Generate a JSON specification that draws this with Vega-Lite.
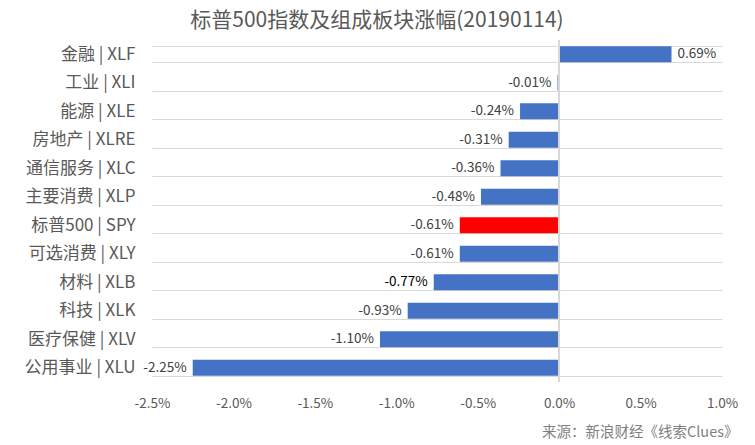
{
  "$schema": "https://vega.github.io/schema/vega-lite/v6.json",
  "autosize": {"type": "none"},
  "padding": {"left": 152, "top": 40, "right": 33, "bottom": 63},
  "width": 570,
  "height": 342,
  "background": "white",
  "title": {
    "text": "标普500指数及组成板块涨幅(20190114)",
    "fontSize": 21,
    "font": "Noto Sans CJK SC",
    "fontWeight": "normal",
    "color": "#595959",
    "anchor": "middle",
    "dx": -60,
    "dy": 4,
    "offset": 4
  },
  "data": {
    "values": [
      {"label": "金融 | XLF", "code": "XLF", "value": 0.0069},
      {"label": "工业 | XLI", "code": "XLI", "value": -0.0001},
      {"label": "能源 | XLE", "code": "XLE", "value": -0.0024},
      {"label": "房地产 | XLRE", "code": "XLRE", "value": -0.0031},
      {"label": "通信服务 | XLC", "code": "XLC", "value": -0.0036},
      {"label": "主要消费 | XLP", "code": "XLP", "value": -0.0048},
      {"label": "标普500 | SPY", "code": "SPY", "value": -0.0061},
      {"label": "可选消费 | XLY", "code": "XLY", "value": -0.0061},
      {"label": "材料 | XLB", "code": "XLB", "value": -0.0077},
      {"label": "科技 | XLK", "code": "XLK", "value": -0.0093},
      {"label": "医疗保健 | XLV", "code": "XLV", "value": -0.011},
      {"label": "公用事业 | XLU", "code": "XLU", "value": -0.0225}
    ]
  },
  "encoding": {
    "y": {
      "field": "label",
      "type": "nominal",
      "sort": null,
      "scale": {"paddingInner": 0.44, "paddingOuter": 0.22},
      "axis": {
        "title": null,
        "ticks": false,
        "domain": false,
        "grid": true,
        "tickBand": "extent",
        "gridColor": "#d9d9d9",
        "gridWidth": 1,
        "labelPadding": 17,
        "labelFontSize": 17,
        "labelFont": "Noto Sans CJK SC",
        "labelColor": "#595959"
      }
    },
    "x": {
      "field": "value",
      "type": "quantitative",
      "scale": {"domain": [-0.025, 0.01], "nice": false, "zero": false},
      "axis": {
        "format": ".1%",
        "values": [-0.025, -0.02, -0.015, -0.01, -0.005, 0, 0.005, 0.01],
        "grid": false,
        "ticks": false,
        "domain": false,
        "labelPadding": 14,
        "labelFontSize": 13.5,
        "labelFont": "Noto Sans CJK SC",
        "labelColor": "#595959",
        "labelFlush": false,
        "title": "来源：新浪财经《线索Clues》",
        "titleFont": "Noto Sans CJK SC",
        "titleFontSize": 14.5,
        "titleFontWeight": "normal",
        "titleColor": "#7f7f7f",
        "titleAnchor": "end",
        "titleAlign": "right",
        "titleX": 586,
        "titlePadding": 16
      }
    }
  },
  "layer": [
    {
      "mark": {"type": "bar"},
      "encoding": {
        "x2": {"datum": 0},
        "color": {
          "condition": {"test": "datum.code === 'SPY'", "value": "#ff0000"},
          "value": "#4472c4"
        }
      }
    },
    {
      "mark": {"type": "rule", "color": "#d9d9d9", "strokeWidth": 1},
      "encoding": {"x": {"datum": 0}, "y": null}
    },
    {
      "transform": [{"filter": "datum.value >= 0"}],
      "mark": {"type": "text", "align": "left", "baseline": "middle", "dx": 6, "fontSize": 13.5, "font": "Noto Sans CJK SC"},
      "encoding": {
        "text": {"field": "value", "format": ".2%"},
        "color": {"value": "#404040"}
      }
    },
    {
      "transform": [{"filter": "datum.value < 0"}],
      "mark": {"type": "text", "align": "right", "baseline": "middle", "dx": -6, "fontSize": 13.5, "font": "Noto Sans CJK SC"},
      "encoding": {
        "text": {"field": "value", "format": ".2%"},
        "color": {
          "condition": {"test": "datum.code === 'XLB'", "value": "#000000"},
          "value": "#404040"
        }
      }
    }
  ],
  "config": {
    "view": {"stroke": null},
    "locale": {
      "number": {
        "decimal": ".",
        "thousands": ",",
        "grouping": [3],
        "currency": ["$", ""],
        "minus": "-"
      }
    }
  }
}
